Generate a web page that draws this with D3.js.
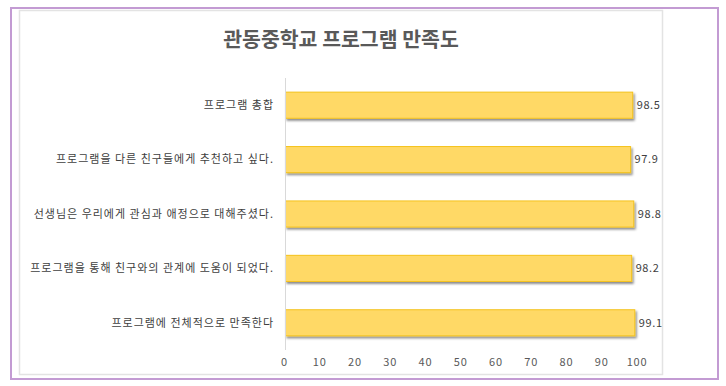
<!DOCTYPE html>
<html>
<head>
<meta charset="utf-8">
<script src="https://cdn.jsdelivr.net/npm/d3@7"></script>
<style>
  body { margin: 0; background: #fff; }
  svg { display: block; font-family: "Noto Sans CJK KR", "Noto Sans", sans-serif; }
</style>
</head>
<body>
<svg id="chart" width="726" height="386"></svg>
<script>
// 카테고리 (위에서 아래 순)
const categories = [
    '프로그램 총합',
    '프로그램을 다른 친구들에게 추천하고 싶다.',
    '선생님은 우리에게 관심과 애정으로 대해주셨다.',
    '프로그램을 통해 친구와의 관계에 도움이 되었다.',
    '프로그램에 전체적으로 만족한다'
]
const values = [98.5, 97.9, 98.8, 98.2, 99.1]
const xTicks = [0, 10, 20, 30, 40, 50, 60, 70, 80, 90, 100]
const title = '관동중학교 프로그램 만족도'

const svg = d3.select('#chart')

// 바깥 보라색 테두리
svg.append('rect')
    .attr('x', 11).attr('y', 8)
    .attr('width', 707).attr('height', 371)
    .attr('fill', 'none')
    .attr('stroke', '#c39bd3')
    .attr('stroke-width', 2)

// 차트 영역
svg.append('rect')
    .attr('x', 19.5).attr('y', 10.5)
    .attr('width', 643).attr('height', 364)
    .attr('fill', '#fff')
    .attr('stroke', '#e3e3e3')
    .attr('stroke-width', 1.5)

// 제목
svg.append('text')
    .attr('x', 341).attr('y', 47)
    .attr('text-anchor', 'middle')
    .attr('font-size', 20.5)
    .attr('font-weight', 'bold')
    .attr('fill', '#595959')
    .text(title)

const x = d3.scaleLinear().domain([0, 100]).range([285.5, 638])
const y = d3.scaleBand().domain(categories).range([78, 350]).paddingInner(0.52).paddingOuter(0.26)

// 그림자 필터
const defs = svg.append('defs')
const f = defs.append('filter').attr('id', 'shadow')
    .attr('x', '-5%').attr('y', '-30%').attr('width', '110%').attr('height', '170%')
f.append('feDropShadow')
    .attr('dx', 1.5).attr('dy', 2)
    .attr('stdDeviation', 1.2)
    .attr('flood-color', '#000')
    .attr('flood-opacity', 0.45)

// 막대
svg.append('g')
    .selectAll('rect')
    .data(values)
    .enter()
    .append('rect')
    .attr('x', x(0))
    .attr('y', (d, i) => y(categories[i]))
    .attr('width', d => x(d) - x(0))
    .attr('height', y.bandwidth())
    .attr('fill', '#ffd966')
    .attr('stroke', '#f5c31c')
    .attr('stroke-width', 1)
    .attr('filter', 'url(#shadow)')

// 세로축 선
svg.append('line')
    .attr('x1', 285.5).attr('x2', 285.5)
    .attr('y1', 78).attr('y2', 350)
    .attr('stroke', '#d9d9d9')
    .attr('stroke-width', 1)

// 값 레이블
svg.append('g')
    .selectAll('text')
    .data(values)
    .enter()
    .append('text')
    .attr('x', d => x(d) + 4)
    .attr('y', (d, i) => y(categories[i]) + y.bandwidth() / 2)
    .attr('dy', '0.35em')
    .attr('font-size', 11)
    .attr('letter-spacing', 0.6)
    .attr('fill', '#404040')
    .text(d => d.toFixed(1))

// 카테고리 레이블
svg.append('g')
    .selectAll('text')
    .data(categories)
    .enter()
    .append('text')
    .attr('x', 274)
    .attr('y', d => y(d) + y.bandwidth() / 2)
    .attr('dy', '0.35em')
    .attr('text-anchor', 'end')
    .attr('font-size', 11)
    .attr('letter-spacing', 1)
    .attr('fill', '#404040')
    .text(d => d)

// x축 눈금 레이블
const xAxis = svg.append('g')
    .attr('transform', 'translate(-1.5,358)')
    .call(d3.axisBottom(x).tickValues(xTicks).tickSize(0).tickPadding(0))
xAxis.select('.domain').remove()
xAxis.selectAll('text')
    .attr('font-size', 11)
    .attr('letter-spacing', 0.8)
    .attr('fill', '#595959')
    .attr('font-family', '"Noto Sans CJK KR", "Noto Sans", sans-serif')
</script>
</body>
</html>
